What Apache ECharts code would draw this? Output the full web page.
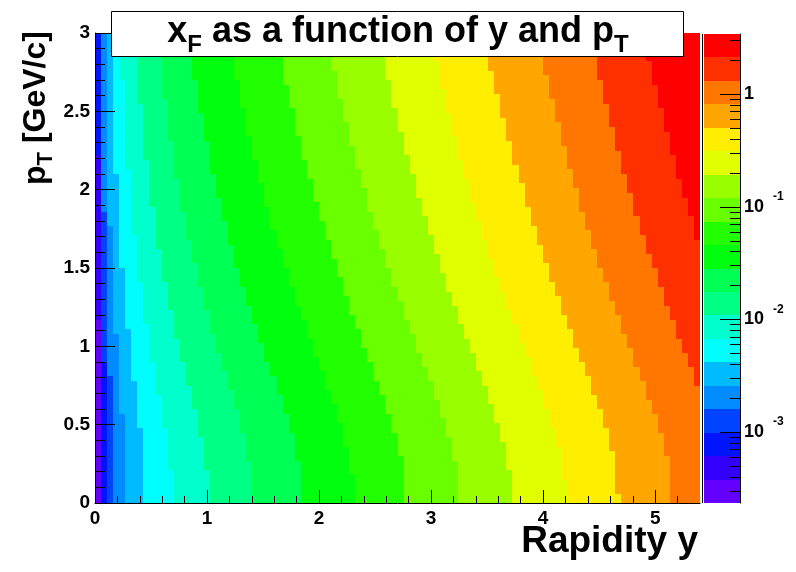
<!DOCTYPE html>
<html><head><meta charset="utf-8">
<script src="https://cdn.jsdelivr.net/npm/echarts@6/dist/echarts.min.js"></script>
<style>html,body{margin:0;padding:0;background:#fff}#chart{width:796px;height:572px}</style>
</head><body><div id="chart"></div>
<script>
const FONT = '"Liberation Sans", Arial, Helvetica, sans-serif';

// ---- axes / binning ----
const rapidityRange = [0, 5.4];
const ptRange = [0, 3];
const nRapidityBins = 100;
const nPtBins = 100;

// ---- colour scale (log z, 20 contours) ----
const zMin = 2.344e-4;
const zMax = 3.43;
const nContours = 20;
const palette = ['#6300ff','#3300ff','#0014ff','#0044ff','#008bff','#00bbff','#00fffc','#00ffcc',
  '#00ff85','#00ff55','#00ff0e','#22ff00','#69ff00','#99ff00','#e0ff00','#ffee00',
  '#ffa700','#ff7700','#ff3000','#ff0000'];

// ---- tick values ----
const xMajorTicks = [0, 1, 2, 3, 4, 5];
const xMinorTicks = [0.2,0.4,0.6,0.8,1.2,1.4,1.6,1.8,2.2,2.4,2.6,2.8,3.2,3.4,3.6,3.8,4.2,4.4,4.6,4.8,5.2];
const yMajorTicks = [0, 0.5, 1, 1.5, 2, 2.5, 3];
const yMinorTicks = [0.1,0.2,0.3,0.4,0.6,0.7,0.8,0.9,1.1,1.2,1.3,1.4,1.6,1.7,1.8,1.9,2.1,2.2,2.3,2.4,2.6,2.7,2.8,2.9];
const zMajorTicks = [0.001, 0.01, 0.1, 1];
const zMinorTicks = [3e-4,4e-4,5e-4,6e-4,7e-4,8e-4,9e-4,2e-3,3e-3,4e-3,5e-3,6e-3,7e-3,8e-3,9e-3,
  0.02,0.03,0.04,0.05,0.06,0.07,0.08,0.09,0.2,0.3,0.4,0.5,0.6,0.7,0.8,0.9,2,3];

// ---- data ----
// rapidity at which colour band k (0..19) begins in the lowest pT row
const bandEdgeAtLowPt = [0, 0.054, 0.054, 0.108, 0.162, 0.27, 0.432, 0.702, 1.026, 1.404,
  1.836, 2.322, 2.754, 3.24, 3.726, 4.212, 4.698, 5.13, 5.4, 5.4];
// pT (GeV/c) from which the edge of band k has moved one more rapidity bin to the left
const bandEdgeSteps = [
  [],
  [1.17],
  [2.22],
  [0.90],
  [0.81, 1.86],
  [0.57, 1.08, 1.77],
  [0.48, 0.78, 1.11, 1.50, 2.10],
  [0.21, 0.48, 0.69, 0.90, 1.14, 1.41, 1.71, 2.13, 2.70],
  [0.21, 0.42, 0.60, 0.75, 0.90, 1.05, 1.23, 1.41, 1.62, 1.89, 2.19, 2.55],
  [0.27, 0.45, 0.60, 0.72, 0.84, 0.96, 1.08, 1.23, 1.38, 1.53, 1.68, 1.86, 2.07, 2.31, 2.58, 2.88],
  [0.27, 0.45, 0.57, 0.69, 0.81, 0.90, 1.02, 1.14, 1.26, 1.38, 1.50, 1.65, 1.80, 1.95, 2.10, 2.31, 2.49, 2.70, 2.97],
  [0.18, 0.36, 0.51, 0.63, 0.72, 0.84, 0.93, 1.05, 1.17, 1.26, 1.38, 1.50, 1.62, 1.74, 1.89, 2.04, 2.19, 2.34, 2.52, 2.70, 2.91],
  [0.30, 0.45, 0.57, 0.69, 0.78, 0.90, 0.99, 1.11, 1.20, 1.32, 1.44, 1.56, 1.68, 1.80, 1.92, 2.07, 2.19, 2.34, 2.52, 2.67, 2.85],
  [0.27, 0.42, 0.54, 0.66, 0.78, 0.87, 0.96, 1.08, 1.17, 1.29, 1.38, 1.50, 1.62, 1.74, 1.86, 2.01, 2.13, 2.28, 2.43, 2.58, 2.76, 2.94],
  [0.21, 0.39, 0.51, 0.63, 0.75, 0.84, 0.96, 1.05, 1.14, 1.26, 1.35, 1.47, 1.59, 1.71, 1.83, 1.95, 2.10, 2.22, 2.37, 2.52, 2.70, 2.85],
  [0.15, 0.36, 0.48, 0.60, 0.72, 0.81, 0.93, 1.02, 1.14, 1.23, 1.35, 1.44, 1.56, 1.68, 1.80, 1.92, 2.07, 2.19, 2.34, 2.49, 2.64, 2.82, 2.97],
  [0.06, 0.33, 0.48, 0.60, 0.69, 0.81, 0.90, 0.99, 1.11, 1.20, 1.32, 1.41, 1.53, 1.65, 1.77, 1.89, 2.04, 2.16, 2.31, 2.46, 2.61, 2.76, 2.94],
  [0.30, 0.45, 0.57, 0.66, 0.78, 0.87, 0.99, 1.08, 1.20, 1.29, 1.41, 1.50, 1.62, 1.74, 1.86, 2.01, 2.13, 2.28, 2.43, 2.58, 2.73, 2.91],
  [0.75, 0.87, 0.96, 1.05, 1.17, 1.26, 1.38, 1.50, 1.59, 1.71, 1.83, 1.98, 2.10, 2.25, 2.40, 2.55, 2.70, 2.88],
  [1.68, 1.83, 1.95, 2.07, 2.22, 2.37, 2.52, 2.67, 2.82]
];

// ---- build cells ----
const dX = (rapidityRange[1] - rapidityRange[0]) / nRapidityBins;
const dY = (ptRange[1] - ptRange[0]) / nPtBins;
const logMin = Math.log10(zMin);
const logStep = (Math.log10(zMax) - logMin) / nContours;
const levels = [];
for (let i = 0; i <= nContours; i++) levels.push(Math.pow(10, logMin + i * logStep));

const cells = [];
for (let j = 0; j < nPtBins; j++) {
  const ptC = ptRange[0] + (j + 0.5) * dY;
  const edges = bandEdgeAtLowPt.map(function (e, k) {
    const n = bandEdgeSteps[k].filter(function (p) { return p < ptC; }).length;
    return e - n * dX;
  });
  let runStart = 0, runBand = -2;
  for (let i = 0; i <= nRapidityBins; i++) {
    let band = -1;
    if (i < nRapidityBins) {
      const xc = rapidityRange[0] + (i + 0.5) * dX;
      for (let b = 0; b < nContours; b++) if (edges[b] <= xc) band = b;
    }
    if (band !== runBand) {
      if (runBand >= 0) {
        cells.push([rapidityRange[0] + runStart * dX, rapidityRange[0] + i * dX,
          ptRange[0] + j * dY, ptRange[0] + (j + 1) * dY,
          Math.sqrt(levels[runBand] * levels[runBand + 1]), runBand]);
      }
      runStart = i; runBand = band;
    }
  }
}
const barData = [];
for (let i = 0; i < nContours; i++) barData.push([0, 1, levels[i], levels[i + 1], i]);

const chart = echarts.init(document.getElementById('chart'), null, {renderer: 'canvas'});
const axisLineStyle = {color: '#000', width: 1};
const labelBase = {color: '#000', fontFamily: FONT, fontWeight: 'bold', fontSize: 19};

function rectItem(colorIndexDim) {
  return function (params, api) {
    const p0 = api.coord([api.value(0), api.value(3)]);
    const p1 = api.coord([api.value(1), api.value(2)]);
    const x0 = Math.round(p0[0]), y0 = Math.round(p0[1]);
    const x1 = Math.round(p1[0]), y1 = Math.round(p1[1]);
    return {type: 'rect', shape: {x: x0, y: y0, width: x1 - x0, height: y1 - y0},
      style: {fill: palette[api.value(colorIndexDim)]}};
  };
}

chart.setOption({
  backgroundColor: '#fff',
  animation: false,
  grid: [
    {left: 95, top: 33, width: 605, height: 470},
    {left: 704, top: 34, width: 36, height: 469}
  ],
  xAxis: [
    {gridIndex: 0, type: 'value', z: 10, min: rapidityRange[0], max: rapidityRange[1], position: 'bottom',
     axisLine: {show: true, onZero: false, lineStyle: axisLineStyle},
     axisTick: {show: true, inside: true, length: 13, customValues: xMajorTicks, lineStyle: axisLineStyle},
     axisLabel: Object.assign({customValues: xMajorTicks, margin: 6}, labelBase),
     splitLine: {show: false}},
    {gridIndex: 0, type: 'value', z: 10, min: rapidityRange[0], max: rapidityRange[1], position: 'bottom',
     axisLine: {show: false, onZero: false},
     axisTick: {show: true, inside: true, length: 7, customValues: xMinorTicks, lineStyle: axisLineStyle},
     axisLabel: {show: false}, splitLine: {show: false}},
    {gridIndex: 1, type: 'value', min: 0, max: 1, show: false, axisLine: {onZero: false}}
  ],
  yAxis: [
    {gridIndex: 0, type: 'value', z: 10, min: ptRange[0], max: ptRange[1], position: 'left',
     axisLine: {show: true, onZero: false, lineStyle: axisLineStyle},
     axisTick: {show: true, inside: true, length: 20, customValues: yMajorTicks, lineStyle: axisLineStyle},
     axisLabel: Object.assign({customValues: yMajorTicks, margin: 5}, labelBase),
     splitLine: {show: false}},
    {gridIndex: 0, type: 'value', z: 10, min: ptRange[0], max: ptRange[1], position: 'left',
     axisLine: {show: false, onZero: false},
     axisTick: {show: true, inside: true, length: 10, customValues: yMinorTicks, lineStyle: axisLineStyle},
     axisLabel: {show: false}, splitLine: {show: false}},
    {gridIndex: 1, type: 'log', z: 10, min: zMin, max: zMax, position: 'right',
     axisLine: {show: true, onZero: false, lineStyle: axisLineStyle},
     axisTick: {show: true, inside: true, length: 20, customValues: zMajorTicks, lineStyle: axisLineStyle},
     axisLabel: {customValues: zMajorTicks, margin: 4, color: '#000',
       formatter: function (v) {
         const e = Math.round(Math.log10(v));
         return e === 0 ? '{b|1}' : '{b|10}{s|' + e + '}';
       },
       rich: {
         b: {fontFamily: FONT, fontWeight: 'bold', fontSize: 18, color: '#000', lineHeight: 18},
         s: {fontFamily: FONT, fontWeight: 'bold', fontSize: 12, color: '#000', lineHeight: 12, padding: [0, 0, 20, 9]}
       }},
     splitLine: {show: false}},
    {gridIndex: 1, type: 'log', z: 10, min: zMin, max: zMax, position: 'right',
     axisLine: {show: false, onZero: false},
     axisTick: {show: true, inside: true, length: 10, customValues: zMinorTicks, lineStyle: axisLineStyle},
     axisLabel: {show: false}, splitLine: {show: false}}
  ],
  series: [
    {type: 'custom', xAxisIndex: 0, yAxisIndex: 0, silent: true, data: cells, z: 1,
     encode: {x: [0, 1], y: [2, 3]}, renderItem: rectItem(5)},
    {type: 'custom', xAxisIndex: 2, yAxisIndex: 2, silent: true, data: barData, z: 1,
     encode: {x: [0, 1], y: [2, 3]}, renderItem: rectItem(4)}
  ],
  graphic: [
    {type: 'line', z: 100, shape: {x1: 702.5, y1: 34, x2: 702.5, y2: 503},
     style: {stroke: '#000', lineWidth: 1}},
    {type: 'rect', z: 100, shape: {x: 111.5, y: 11.5, width: 572, height: 45},
     style: {fill: '#fff', stroke: '#000', lineWidth: 1}},
    {type: 'text', z: 101, x: 398, y: 32,
     style: {text: '{m|x}{s|F}{m| as a function of y and p}{s|T}', align: 'center', verticalAlign: 'middle',
       rich: {
         m: {fontFamily: FONT, fontWeight: 'bold', fontSize: 36, lineHeight: 40, fill: '#000'},
         s: {fontFamily: FONT, fontWeight: 'bold', fontSize: 24, lineHeight: 26, fill: '#000', padding: [26, 0, 0, 0]}
       }}},
    {type: 'text', z: 101, x: 36, y: 108, rotation: Math.PI / 2,
     style: {text: '{m|p}{s|T}{m| [GeV/c]}', align: 'center', verticalAlign: 'middle',
       rich: {
         m: {fontFamily: FONT, fontWeight: 'bold', fontSize: 32, lineHeight: 36, fill: '#000'},
         s: {fontFamily: FONT, fontWeight: 'bold', fontSize: 22, lineHeight: 24, fill: '#000', padding: [20, 0, 0, 0]}
       }}},
    {type: 'text', z: 101, x: 698, y: 542,
     style: {text: 'Rapidity y', align: 'right', verticalAlign: 'middle',
       fontFamily: FONT, fontWeight: 'bold', fontSize: 37, fill: '#000'}}
  ]
});
</script></body></html>
